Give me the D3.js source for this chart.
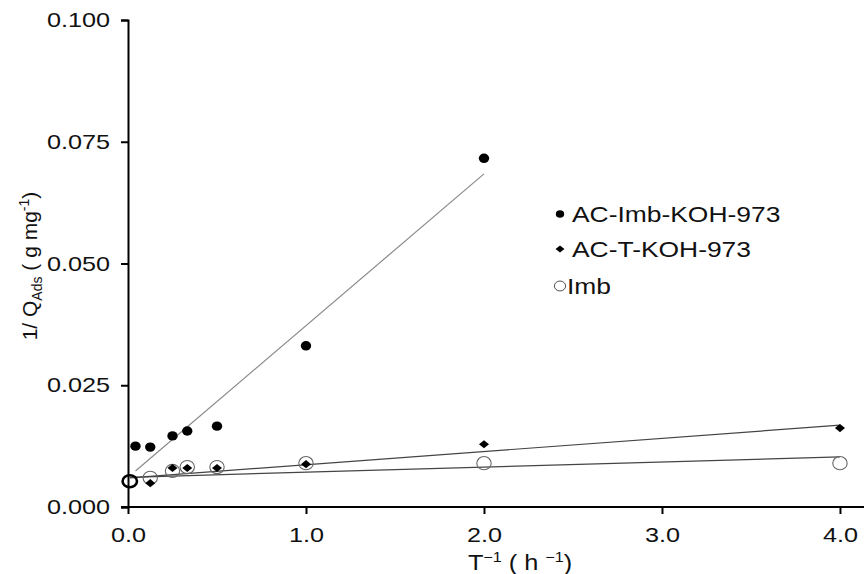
<!DOCTYPE html>
<html lang="en">
<head>
<meta charset="UTF-8">
<title>1/Q vs 1/T</title>
<script src="https://d3js.org/d3.v7.min.js"></script>
<style>
  body { margin: 0; background: #fff; }
  svg text { font-family: "Liberation Sans", Arial, sans-serif; fill: #111; }
</style>
</head>
<body>
<div id="chart"></div>
<script>
// data
const seriesNames = ["AC-Imb-KOH-973", "AC-T-KOH-973", "Imb"];

const xImbKOH = [0.042, 0.125, 0.25, 0.333, 0.5, 1.0, 2.0];
const yImbKOH = [0.0125, 0.0123, 0.0146, 0.0156, 0.0166, 0.0331, 0.0716];

const xTKOH = [0.125, 0.25, 0.333, 0.5, 1.0, 2.0, 4.0];
const yTKOH = [0.0049, 0.0080, 0.0080, 0.0080, 0.0088, 0.0129, 0.0162];

const xImb = [0.01, 0.125, 0.25, 0.333, 0.5, 1.0, 2.0, 4.0];
const yImb = [0.0053, 0.0060, 0.0074, 0.0082, 0.0082, 0.0090, 0.0090, 0.0090];

// fitted lines (end points)
const fitImbKOH = [[0.042, 0.0074], [2.0, 0.0684]];
const fitTKOH = [[0.01, 0.0060], [4.0, 0.0168]];
const fitImb = [[0.01, 0.0061], [4.0, 0.0103]];

const xTicks = [0, 1, 2, 3, 4];
const yTicks = [0, 0.025, 0.05, 0.075, 0.1];

const W = 864, H = 574;
const svg = d3.select("#chart").append("svg")
    .attr("width", W).attr("height", H);

const x = d3.scaleLinear().domain([0, 4.135]).range([128, 864]);
const y = d3.scaleLinear().domain([0, 0.1]).range([507, 20]);

// stretch text horizontally (reference type is wide)
function stretch(sel, k) {
    sel.each(function () {
        const w = this.getComputedTextLength();
        d3.select(this).attr("textLength", w * k).attr("lengthAdjust", "spacingAndGlyphs");
    });
}

// axes
const gx = svg.append("g")
    .attr("transform", `translate(0,${y(0)})`)
    .call(d3.axisBottom(x).tickValues(xTicks).tickFormat(d3.format(".1f"))
        .tickSizeOuter(0).tickSize(7).tickPadding(13));
const gy = svg.append("g")
    .attr("transform", `translate(${x(0)},0)`)
    .call(d3.axisLeft(y).tickValues(yTicks).tickFormat(d3.format(".3f"))
        .tickSizeOuter(0).tickSize(7).tickPadding(11));

[gx, gy].forEach(g => {
    g.select(".domain").attr("stroke", "#000").attr("stroke-width", 2);
    g.selectAll(".tick line").attr("stroke", "#000").attr("stroke-width", 2);
    g.selectAll(".tick text").attr("font-size", 21).attr("fill", "#111")
        .style("font-family", "'Liberation Sans', Arial, sans-serif");
});
// bottom axis runs to the left tick
gx.select(".domain").attr("d", `M121,0H864`);
stretch(gx.selectAll(".tick text"), 1.2);
stretch(gy.selectAll(".tick text"), 1.2);

// fit lines
const line = d3.line().x(d => x(d[0])).y(d => y(d[1]));
svg.append("path").attr("d", line(fitImbKOH)).attr("fill", "none")
    .attr("stroke", "#8a8a8a").attr("stroke-width", 1.2);
svg.append("path").attr("d", line(fitTKOH)).attr("fill", "none")
    .attr("stroke", "#444").attr("stroke-width", 1.2);
svg.append("path").attr("d", line(fitImb)).attr("fill", "none")
    .attr("stroke", "#444").attr("stroke-width", 1.2);

const imb = xImb.map((v, i) => ({ x: v, y: yImb[i], i }));
const tkoh = xTKOH.map((v, i) => ({ x: v, y: yTKOH[i] }));
const imbkoh = xImbKOH.map((v, i) => ({ x: v, y: yImbKOH[i] }));

// open circles (Imb)
svg.append("g").selectAll("ellipse").data(imb).join("ellipse")
    .attr("cx", d => x(d.x)).attr("cy", d => y(d.y))
    .attr("rx", 7.2).attr("ry", d => d.i === 0 ? 6 : 6.6)
    .attr("fill", "none")
    .attr("stroke", d => d.i === 0 ? "#000" : "#666")
    .attr("stroke-width", d => d.i === 0 ? 2.6 : 1.1);

// diamonds (AC-T-KOH-973)
const diamond = d3.symbol().type(d3.symbolSquare).size(40);
svg.append("g").selectAll("path").data(tkoh).join("path")
    .attr("d", diamond)
    .attr("transform", d => `translate(${x(d.x)},${y(d.y)}) scale(1.12,0.9) rotate(45)`)
    .attr("fill", "#000");

// filled circles (AC-Imb-KOH-973)
svg.append("g").selectAll("ellipse").data(imbkoh).join("ellipse")
    .attr("cx", d => x(d.x)).attr("cy", d => y(d.y))
    .attr("rx", 5.2).attr("ry", 4.7).attr("fill", "#000");

// legend
const lg = svg.append("g");
const rows = [214, 249, 286];
lg.append("ellipse").attr("cx", 560).attr("cy", rows[0]).attr("rx", 4.2).attr("ry", 3.8).attr("fill", "#000");
lg.append("path").attr("d", d3.symbol().type(d3.symbolSquare).size(30)())
    .attr("transform", `translate(560,${rows[1]}) scale(1.15,0.9) rotate(45)`).attr("fill", "#000");
lg.append("ellipse").attr("cx", 560).attr("cy", rows[2]).attr("rx", 5.6).attr("ry", 5)
    .attr("fill", "none").attr("stroke", "#555").attr("stroke-width", 1);
const lt = lg.selectAll("text").data(seriesNames).join("text")
    .attr("x", (d, i) => i === 2 ? 567 : 572)
    .attr("y", (d, i) => rows[i] + 8)
    .attr("font-size", 22)
    .text(d => d);
stretch(lt, 1.2);

// axis titles
const xt = svg.append("text").attr("x", 520).attr("y", 570)
    .attr("text-anchor", "middle").attr("font-size", 22);
xt.append("tspan").text("T");
xt.append("tspan").attr("dy", -8).attr("font-size", 14).text("\u2212" + "1");
xt.append("tspan").attr("dy", 8).text(" ( h ");
xt.append("tspan").attr("dy", -8).attr("font-size", 14).text("\u2212" + "1");
xt.append("tspan").attr("dy", 8).text(")");
stretch(xt, 1.15);

const yt = svg.append("text")
    .attr("transform", "translate(37,266) rotate(-90)")
    .attr("text-anchor", "middle").attr("font-size", 21);
yt.append("tspan").text("1/ Q");
yt.append("tspan").attr("dy", 5).attr("font-size", 14).text("Ads");
yt.append("tspan").attr("dy", -5).text("  ( g mg");
yt.append("tspan").attr("dy", -8).attr("font-size", 14).text("-1");
yt.append("tspan").attr("dy", 8).text(")");
</script>
</body>
</html>
